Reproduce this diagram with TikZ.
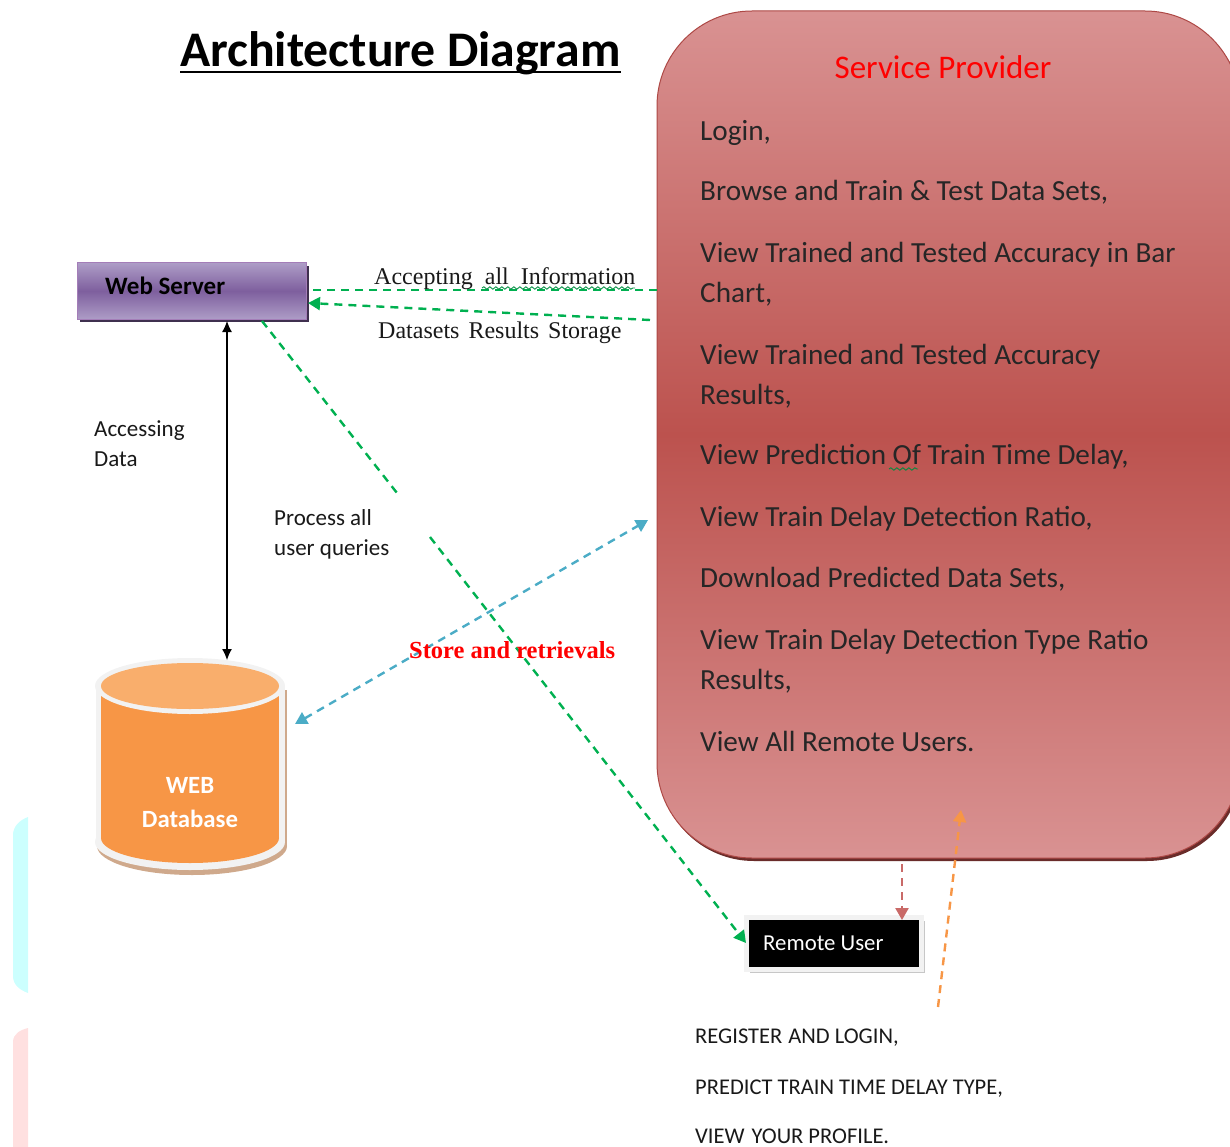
\documentclass[tikz,border=0pt]{standalone}
\usepackage{fontspec}
\setmainfont{Carlito}
\newfontfamily\timesfont{Liberation Serif}
\usetikzlibrary{arrows.meta,calc,shadows,decorations.pathmorphing}
\definecolor{dashgreen}{HTML}{00B050}
\definecolor{dashblue}{HTML}{4BACC6}
\definecolor{dashorange}{HTML}{F79646}
\definecolor{dashred}{HTML}{C0504D}
\definecolor{providerlight}{HTML}{D99292}
\definecolor{providerdark}{HTML}{BC524E}
\definecolor{serverlight}{HTML}{AD9CC6}
\definecolor{serverdark}{HTML}{7E5F9E}
\definecolor{dbtopfill}{HTML}{F9AE6C}
\definecolor{dbring}{HTML}{F2F2F2}
\definecolor{dbshadow}{HTML}{CFA98C}
\tikzset{
  dashline/.style={line width=2.4pt, dash pattern=on 8pt off 6pt},
  tiptri/.tip={Triangle[length=12pt,width=13pt]},
  servicetext/.style={anchor=west, align=left, inner sep=0pt, font=\fontsize{29.2}{40}\selectfont, text=black!85},
  smalltext/.style={anchor=west, align=left, inner sep=0pt, font=\fontsize{23}{30}\selectfont, text=black!90},
  capstext/.style={anchor=west, inner sep=0pt, font=\fontsize{22.5}{30}\selectfont, text=black!90},
  serifnote/.style={anchor=west, inner sep=0pt, font=\timesfont\fontsize{24}{28}\selectfont, text=black!90},
  spellwave/.style={draw=dashgreen!80!black, line width=0.9pt, decorate, decoration={snake, amplitude=1.2pt, segment length=6pt}},
}
\begin{document}
\begin{tikzpicture}[x=1pt, y=-1pt]
\useasboundingbox (0,0) rectangle (1230,1147);
\clip (0,0) rectangle (1230,1147);
% Pale stubs on the left edge
\fill[green!2!cyan!20!white] (28,817) .. controls (20,820) and (13,826) .. (13,835) -- (13,976) .. controls (13,985) and (20,990) .. (28,993) -- cycle;
\fill[red!12] (28,1028) .. controls (20,1030) and (13,1034) .. (13,1042) -- (13,1147) -- (28,1147) -- cycle;
% Title
\node[inner sep=0pt, anchor=base west, font=\bfseries\fontsize{49.8}{54}\selectfont] (title) at (180,67) {Architecture Diagram};
\draw[line width=2.8pt] ($(title.base west)+(0,5)$) -- ($(title.base east)+(0,5)$);
% Service Provider
\node[draw=dashred!90!black, line width=1pt, rounded corners=95pt, minimum width=583pt, minimum height=847pt,
  top color=providerlight, bottom color=providerlight, middle color=providerdark,
  drop shadow={shadow xshift=2pt, shadow yshift=-3pt, opacity=1, fill=dashred!55!black}] (provider) at (948.5,434.5) {};
\node[inner sep=0pt, text=red, font=\fontsize{33}{36}\selectfont] (providertitle) at (943,67) {Service Provider};
\node[servicetext] (login) at (700,133) {Login,};
\node[servicetext] (browse) at (700,192) {Browse and Train \& Test Data Sets,};
\node[servicetext] (barchart) at (700,274) {View Trained and Tested Accuracy in Bar\\Chart,};
\node[servicetext] (accuracy) at (700,376) {View Trained and Tested Accuracy\\Results,};
\node[servicetext] (prediction) at (700,457) {View Prediction Of Train Time Delay,};
\node[servicetext] (ratio) at (700,519) {View Train Delay Detection Ratio,};
\node[servicetext] (download) at (700,579) {Download Predicted Data Sets,};
\node[servicetext] (typeratio) at (700,661) {View Train Delay Detection Type Ratio\\Results,};
\node[servicetext] (remoteusers) at (700,741) {View All Remote Users.};
\draw[spellwave] (889,469) -- (918,469);
% Web Server
\node[draw=serverlight!80!violet, line width=1pt, minimum width=229pt, minimum height=56pt, inner sep=0pt,
  top color=serverlight, bottom color=serverlight, middle color=serverdark,
  drop shadow={shadow xshift=2.5pt, shadow yshift=-3pt, opacity=1, fill=serverdark!50!black}] (wsrv) at (191.5,291) {};
\node[inner sep=0pt, anchor=west, font=\bfseries\fontsize{25}{28}\selectfont] (wsrvtext) at (105,286) {Web Server};
% WEB Database
\fill[dbshadow] (97,690) rectangle (287,846);
\fill[dbshadow] (192,846) ellipse [x radius=95, y radius=29];
\fill[dbring] (95.5,686) rectangle (285,842);
\fill[dbring] (190,842) ellipse [x radius=95, y radius=28];
\fill[dashorange] (101,690) rectangle (279,838);
\fill[dashorange] (190,838) ellipse [x radius=89, y radius=25];
\fill[dbring] (190,686) ellipse [x radius=95, y radius=28];
\fill[dbtopfill] (190,686) ellipse [x radius=89, y radius=23];
\node[inner sep=0pt, align=center, text=white, font=\bfseries\fontsize{24.8}{34}\selectfont] (webdb) at (190,803) {WEB\\Database};
% Remote User
\node[fill=black, draw=dbring, line width=5pt, minimum width=175pt, minimum height=52pt,
  drop shadow={shadow xshift=3pt, shadow yshift=-3.5pt, opacity=1, fill=black!22}] (ruser) at (834,943.5) {};
\node[inner sep=0pt, anchor=west, text=white, font=\fontsize{22.8}{24}\selectfont] (rusertext) at (763,943) {Remote User};
% Coordenates
\coordinate (dbtop) at (227,660);
\coordinate (wsrvdown) at (227,321);
\coordinate (wsrvgreen) at (262,321);
\coordinate (wsrvtop) at (308,290);
\coordinate (wsrvlow) at (308,303);
\coordinate (acceptend) at (657,290);
\coordinate (storeend) at (650,320);
\coordinate (gapa) at (397,493);
\coordinate (gapb) at (430,537);
\coordinate (ruserin) at (746,943);
\coordinate (dbside) at (295,724);
\coordinate (providerside) at (648,520);
\coordinate (bottomred) at (902,864);
\coordinate (ruserred) at (902,920);
\coordinate (registerend) at (938,1007);
\coordinate (providerin) at (961,810);
% Connectors
\draw[{Latex[length=11pt,width=10pt]}-{Latex[length=11pt,width=10pt]}, line width=1.2pt] (wsrvdown) -- (dbtop);
\draw[dashline, dashgreen] (acceptend) -- (wsrvtop);
\draw[dashline, dashgreen, -tiptri] (storeend) -- (wsrvlow);
\draw[dashline, dashgreen] (wsrvgreen) -- (gapa);
\draw[dashline, dashgreen, -tiptri] (gapb) -- (ruserin);
\draw[dashline, dashblue, tiptri-tiptri] (dbside) -- (providerside);
\draw[dashline, dashred!85, -tiptri] (bottomred) -- (ruserred);
\draw[dashline, dashorange, -tiptri] (registerend) -- (providerin);
% Labels
\node[serifnote] (accepting) at (374,279) {Accepting\ \ all\ \ Information};
\draw[spellwave] (482,288) -- (635,288);
\node[serifnote] (datasets) at (378,333) {Datasets\hspace{9pt}Results\hspace{9pt}Storage};
\node[smalltext] (accessing) at (94,444) {Accessing\\Data};
\node[smalltext] (process) at (274,534) {Process all\\user queries};
\node[inner sep=0pt, anchor=west, text=red, font=\timesfont\bfseries\fontsize{24.5}{28}\selectfont] (store) at (409,650) {Store and retrievals};
\node[capstext] (register) at (695,1038) {REGISTER\hspace{6pt}AND LOGIN,};
\node[capstext] (predict) at (695,1089) {PREDICT TRAIN TIME DELAY TYPE,};
\node[capstext] (profile) at (695,1136) {VIEW\hspace{7pt}YOUR PROFILE.};
\end{tikzpicture}
\end{document}
